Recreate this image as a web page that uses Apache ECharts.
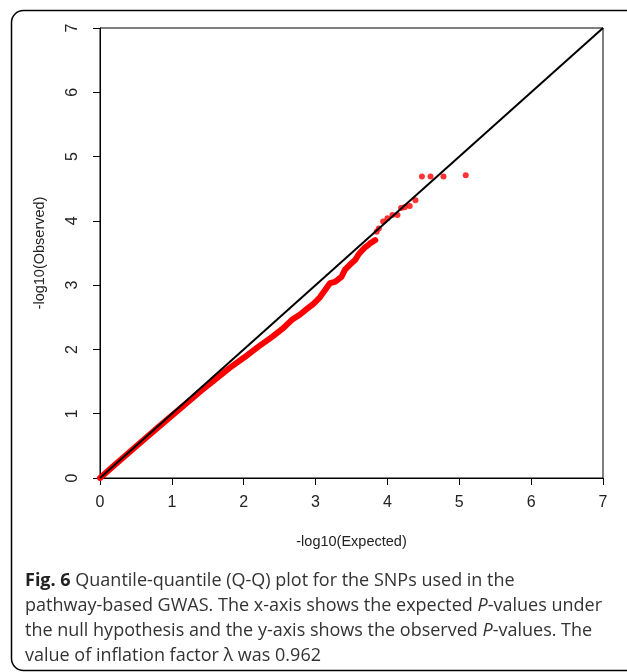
<!DOCTYPE html>
<html>
<head>
<meta charset="utf-8">
<script src="https://cdn.jsdelivr.net/npm/echarts@6/dist/echarts.min.js"></script>
<style>
  html, body { margin: 0; padding: 0; background: #fff; }
  #qq { width: 627px; height: 672px; }
</style>
</head>
<body>
<div id="qq"></div>
<script>
// dense part of the Q-Q cloud (expected, observed)
var expectedDense = [0, 0.2, 0.5, 0.8, 1.0, 1.2, 1.4, 1.6, 1.8, 2.0, 2.2, 2.4, 2.55, 2.67, 2.78, 2.88, 2.97, 3.06, 3.15, 3.2, 3.27, 3.36, 3.41, 3.48, 3.55, 3.6, 3.64, 3.69, 3.73, 3.76, 3.8, 3.83];
var observedDense = [0, 0.2, 0.49, 0.78, 0.97, 1.16, 1.35, 1.53, 1.71, 1.87, 2.04, 2.2, 2.33, 2.46, 2.54, 2.63, 2.71, 2.81, 2.95, 3.03, 3.05, 3.13, 3.24, 3.32, 3.39, 3.48, 3.53, 3.59, 3.62, 3.65, 3.68, 3.70];
// sparse upper tail
var expectedTail = [3.85, 3.88, 3.94, 4.0, 4.07, 4.14, 4.19, 4.24, 4.31, 4.39, 4.48, 4.6, 4.78, 5.09];
var observedTail = [3.83, 3.88, 3.99, 4.04, 4.09, 4.09, 4.2, 4.21, 4.23, 4.32, 4.69, 4.69, 4.69, 4.71];
// y = x reference line
var refLine = [[0, 0], [7, 7]];

var xTitle = '-log10(Expected)';
var yTitle = '-log10(Observed)';

function zip(a, b) {
  var out = [];
  for (var i = 0; i < a.length; i++) out.push([a[i], b[i]]);
  return out;
}

var chart = echarts.init(document.getElementById('qq'));

var tickFont = { fontFamily: 'Liberation Sans, Arial, sans-serif', fontSize: 16, color: '#222' };
var titleFont = { fontFamily: 'Liberation Sans, Arial, sans-serif', fontSize: 14.5, color: '#222' };
var capFont = 'Open Sans, Noto Sans, sans-serif';

var option = {
  animation: false,
  backgroundColor: '#fff',
  grid: {
    left: 100, right: 24, top: 28, bottom: 194,
    show: true, borderColor: '#000', borderWidth: 1
  },
  xAxis: {
    type: 'value', min: 0, max: 7, interval: 1,
    name: xTitle, nameLocation: 'middle', nameGap: 56,
    nameTextStyle: titleFont,
    axisLine: { show: true, lineStyle: { color: '#000', width: 1 } },
    axisTick: { show: true, length: 7, lineStyle: { color: '#000' } },
    axisLabel: Object.assign({ margin: 17 }, tickFont),
    splitLine: { show: false }
  },
  yAxis: {
    type: 'value', min: 0, max: 7, interval: 1,
    name: yTitle, nameLocation: 'middle', nameGap: 53, nameRotate: 90,
    nameTextStyle: titleFont,
    axisLine: { show: true, lineStyle: { color: '#000', width: 1 } },
    axisTick: { show: true, length: 7, lineStyle: { color: '#000' } },
    axisLabel: Object.assign({ margin: 19, rotate: 90 }, tickFont),
    splitLine: { show: false }
  },
  series: [
    {
      type: 'line', data: zip(expectedDense, observedDense),
      showSymbol: false, lineStyle: { color: '#ff0000', width: 6, cap: 'round', join: 'round' },
      z: 2
    },
    {
      type: 'scatter', data: zip(expectedTail, observedTail),
      symbolSize: 6, itemStyle: { color: '#ff0000' }, z: 2
    },
    {
      type: 'line', data: refLine, showSymbol: false,
      lineStyle: { color: '#000', width: 2 }, z: 3
    }
  ],
  graphic: [
    {
      type: 'rect', left: 9, top: 8,
      shape: { width: 700, height: 660, r: 12 },
      style: { fill: null, stroke: '#000', lineWidth: 1.5 },
      silent: true
    },
    {
      type: 'text', left: 25, top: 568,
      style: {
        text: '{b|Fig. 6} Quantile-quantile (Q-Q) plot for the SNPs used in the\n' +
              'pathway-based GWAS. The x-axis shows the expected {i|P}-values under\n' +
              'the null hypothesis and the y-axis shows the observed {i|P}-values. The\n' +
              'value of inflation factor λ was 0.962',
        fontFamily: capFont,
        fontSize: 18,
        lineHeight: 25,
        fill: '#333',
        rich: {
          b: { fontWeight: 'bold', fontFamily: capFont, fontSize: 18, lineHeight: 25, fill: '#222' },
          i: { fontStyle: 'italic', fontFamily: capFont, fontSize: 18, lineHeight: 25, fill: '#333' }
        }
      }
    }
  ]
};

chart.setOption(option);
</script>
</body>
</html>
